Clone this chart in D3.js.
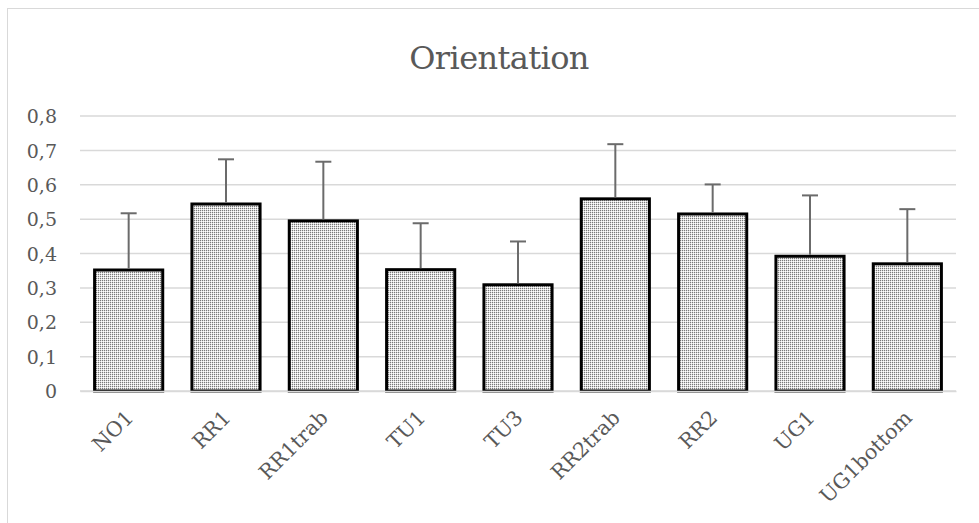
<!DOCTYPE html>
<html>
<head>
<meta charset="utf-8">
<script src="https://cdn.jsdelivr.net/npm/d3@7"></script>
<style>
  html, body { margin: 0; padding: 0; background: #fff; }
  svg { display: block; }
</style>
</head>
<body>
<svg id="chart" width="979" height="523"></svg>
<script>
// Orientation per sample: mean value and upper error
const categories = ["NO1", "RR1", "RR1trab", "TU1", "TU3", "RR2trab", "RR2", "UG1", "UG1bottom"];
const means = [0.352, 0.544, 0.495, 0.353, 0.309, 0.559, 0.515, 0.392, 0.370];
const errors = [0.165, 0.130, 0.172, 0.135, 0.126, 0.159, 0.086, 0.177, 0.159];
const yTicks = [0, 0.1, 0.2, 0.3, 0.4, 0.5, 0.6, 0.7, 0.8];
const titleText = "Orientation";

const svg = d3.select("#chart");
const font = "'DejaVu Serif', 'Liberation Serif', serif";
const textColor = "#595959";

// chart frame
svg.append("rect")
  .attr("x", 7.5).attr("y", 8.5)
  .attr("width", 1000).attr("height", 600)
  .attr("fill", "#fff").attr("stroke", "#d9d9d9").attr("stroke-width", 1);

// dotted fill pattern
const defs = svg.append("defs");
const pat = defs.append("pattern")
  .attr("id", "dots").attr("patternUnits", "userSpaceOnUse")
  .attr("width", 2).attr("height", 2);
pat.append("rect").attr("width", 2).attr("height", 2).attr("fill", "#ffffff");
pat.append("rect").attr("x", 0).attr("y", 0).attr("width", 1).attr("height", 1).attr("fill", "#7a7a7a");
pat.append("rect").attr("x", 1).attr("y", 0).attr("width", 1).attr("height", 1).attr("fill", "#dedede");
pat.append("rect").attr("x", 0).attr("y", 1).attr("width", 1).attr("height", 1).attr("fill", "#dedede");

const x = d3.scaleBand().domain(categories).range([80, 956]).paddingInner(0.3).paddingOuter(0.15);
const y = d3.scaleLinear().domain([0, 0.8]).range([391, 116]);

// gridlines
svg.append("g").selectAll("line").data(yTicks).join("line")
  .attr("x1", 80).attr("x2", 956)
  .attr("y1", d => y(d)).attr("y2", d => y(d))
  .attr("stroke", "#d9d9d9").attr("stroke-width", 1.5);

// y axis labels
const yAxis = d3.axisLeft(y).tickValues(yTicks).tickSize(0).tickPadding(0)
  .tickFormat(d => d === 0 ? "0" : d3.format(".1f")(d).replace(".", ","));
const gy = svg.append("g").attr("transform", "translate(57,0)").call(yAxis);
gy.select(".domain").remove();
gy.selectAll("text")
  .attr("font-family", font).attr("font-size", 19).attr("fill", textColor)
  .attr("dy", "0.35em");

// bars
const bars = svg.append("g");
bars.selectAll("rect").data(categories).join("rect")
  .attr("x", d => x(d))
  .attr("y", (d, i) => y(means[i]))
  .attr("width", x.bandwidth())
  .attr("height", (d, i) => y(0) - y(means[i]))
  .attr("fill", "url(#dots)")
  .attr("stroke", "#000").attr("stroke-width", 3);

// upper error bars
const err = svg.append("g").attr("stroke", "#6b6b6b").attr("stroke-width", 2);
categories.forEach((c, i) => {
  const cx = x(c) + x.bandwidth() / 2;
  err.append("line").attr("x1", cx).attr("x2", cx)
    .attr("y1", y(means[i]) - 1.5).attr("y2", y(means[i] + errors[i]));
  err.append("line").attr("x1", cx - 8).attr("x2", cx + 8)
    .attr("y1", y(means[i] + errors[i])).attr("y2", y(means[i] + errors[i]));
});

// category labels
const xAxis = d3.axisBottom(x).tickSize(0).tickPadding(0);
const gx = svg.append("g").attr("transform", "translate(0,391)").call(xAxis);
gx.select(".domain").attr("stroke", "#d9d9d9").attr("stroke-width", 1.5);
gx.selectAll("text")
  .attr("font-family", font).attr("font-size", 20.5).attr("fill", textColor)
  .attr("text-anchor", "end")
  .attr("dy", "0")
  .attr("transform", "translate(6,28) rotate(-45)");

// title
svg.append("text")
  .attr("x", 499).attr("y", 69)
  .attr("text-anchor", "middle")
  .attr("font-family", font).attr("font-size", 32)
  .attr("letter-spacing", -0.6)
  .attr("fill", textColor)
  .text(titleText);
</script>
</body>
</html>
